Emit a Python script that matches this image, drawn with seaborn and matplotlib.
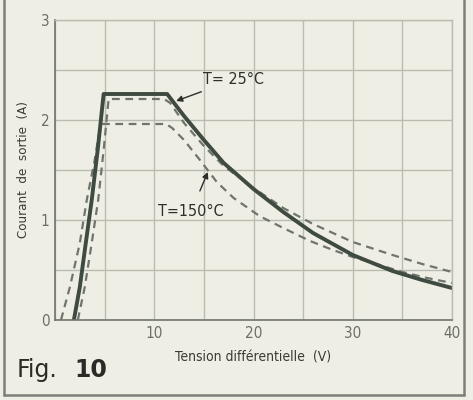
import matplotlib
matplotlib.use("Agg")
import matplotlib.pyplot as plt
from matplotlib.lines import Line2D
import seaborn as sns
import pandas as pd

# Output current vs differential voltage, three junction temperatures
v_25 = [1.9, 2.5, 3.1, 3.7, 4.3, 4.9, 11.3, 13, 15, 17, 20, 23, 26, 30, 34, 37, 40]
i_25 = [0, 0.33, 0.77, 1.2, 1.7, 2.26, 2.26, 2.04, 1.80, 1.57, 1.31, 1.08, 0.87, 0.65, 0.49, 0.40, 0.32]

v_mid = [2.3, 3.0, 3.7, 4.35, 4.9, 5.4, 11.0, 11.6, 13, 15, 17, 20, 23, 26, 30, 34, 37, 40]
i_mid = [0, 0.33, 0.77, 1.2, 1.7, 2.21, 2.21, 2.17, 1.97, 1.74, 1.54, 1.32, 1.12, 0.96, 0.78, 0.65, 0.56, 0.48]

v_150 = [0.6, 1.5, 2.5, 3.2, 4.0, 4.4, 4.8, 11.2, 11.8, 13, 14.6, 16.3, 18, 20.6, 23, 25.7, 28, 30, 32.7, 35, 37.5, 40]
i_150 = [0, 0.33, 0.77, 1.2, 1.6, 1.85, 1.96, 1.96, 1.92, 1.80, 1.60, 1.38, 1.22, 1.04, 0.92, 0.79, 0.70, 0.63, 0.55, 0.48, 0.42, 0.37]

x_ticks = [10, 20, 30, 40]
y_ticks = [0, 1, 2, 3]

paper = "#efeee5"
ink = "#3f4a40"
grid = "#b9bdb0"

sns.set_theme(style="white")
plt.rcParams["font.family"] = ["DejaVu Sans"]
plt.rcParams["font.stretch"] = "condensed"

fig = plt.figure(figsize=(4.73, 4.0), dpi=100, facecolor=paper)
ax = fig.add_axes([0.1163, 0.2, 0.8393, 0.75])
ax.set_facecolor(paper)

curves = pd.concat([
    pd.DataFrame({"v": v_25, "i": i_25, "t": "25"}),
    pd.DataFrame({"v": v_mid, "i": i_mid, "t": "mid"}),
    pd.DataFrame({"v": v_150, "i": i_150, "t": "150"}),
])

sns.lineplot(data=curves[curves.t == "mid"], x="v", y="i", ax=ax, color="#6f756c",
             lw=1.6, linestyle=(0, (3.5, 2.5)), sort=False)
sns.lineplot(data=curves[curves.t == "150"], x="v", y="i", ax=ax, color="#6f756c",
             lw=1.6, linestyle=(0, (3.5, 2.5)), sort=False)
sns.lineplot(data=curves[curves.t == "25"], x="v", y="i", ax=ax, color=ink,
             lw=2.8, sort=False)

grid_x = [0, 5, 10, 15, 20, 25, 30, 35, 40]
grid_y = [0, 0.5, 1, 1.5, 2, 2.5, 3]
ax.set_xlim(0, 40)
ax.set_ylim(0, 3)
ax.set_xticks(grid_x)
ax.set_yticks(grid_y)
ax.set_xticklabels([str(t) if t in x_ticks else "" for t in grid_x])
ax.set_yticklabels([str(int(t)) if t in y_ticks else "" for t in grid_y])
ax.grid(True, color=grid, lw=1.0)
ax.tick_params(length=0, labelsize=11, labelcolor="#6b6f68", pad=4)

for s in ["top", "right"]:
    ax.spines[s].set_color(grid)
    ax.spines[s].set_linewidth(1.0)
for s in ["left", "bottom"]:
    ax.spines[s].set_color("#6f756c")
    ax.spines[s].set_linewidth(1.2)

ax.set_xlabel("Tension différentielle  (V)", fontsize=10, color="#3a3a36", labelpad=7)
ax.set_ylabel("Courant  de  sortie  (A)", fontsize=9.5, color="#3a3a36", labelpad=8)

ax.annotate("T= 25°C", xy=(12.2, 2.19), xytext=(14.9, 2.4), fontsize=11.5, color="#2d2f2b",
            va="center", ha="left",
            arrowprops=dict(arrowstyle="-|>", color="#2d2f2b", lw=1.0, shrinkA=2, shrinkB=0,
                            mutation_scale=9))
ax.annotate("T=150°C", xy=(15.4, 1.48), xytext=(10.4, 1.08), fontsize=11.5, color="#2d2f2b",
            va="center", ha="left",
            arrowprops=dict(arrowstyle="-|>", color="#2d2f2b", lw=1.0, shrinkA=8, shrinkB=0,
                            mutation_scale=9))

fig.text(0.035, 0.057, "Fig.", fontsize=17, color="#2b2a26", family="DejaVu Sans",
         stretch="normal")
fig.text(0.158, 0.057, "10", fontsize=17, color="#2b2a26", family="DejaVu Sans",
         weight="bold", stretch="normal")

# page frame around the figure
frame = "#7c7f78"
fig.add_artist(Line2D([0.009, 0.009], [0.012, 1.0], color=frame, lw=1.8, transform=fig.transFigure))
fig.add_artist(Line2D([0.009, 0.982], [0.012, 0.012], color=frame, lw=1.8, transform=fig.transFigure))
fig.add_artist(Line2D([0.982, 0.982], [0.012, 1.0], color=frame, lw=1.8, transform=fig.transFigure))

fig.savefig("out.png", dpi=100, facecolor=paper)
